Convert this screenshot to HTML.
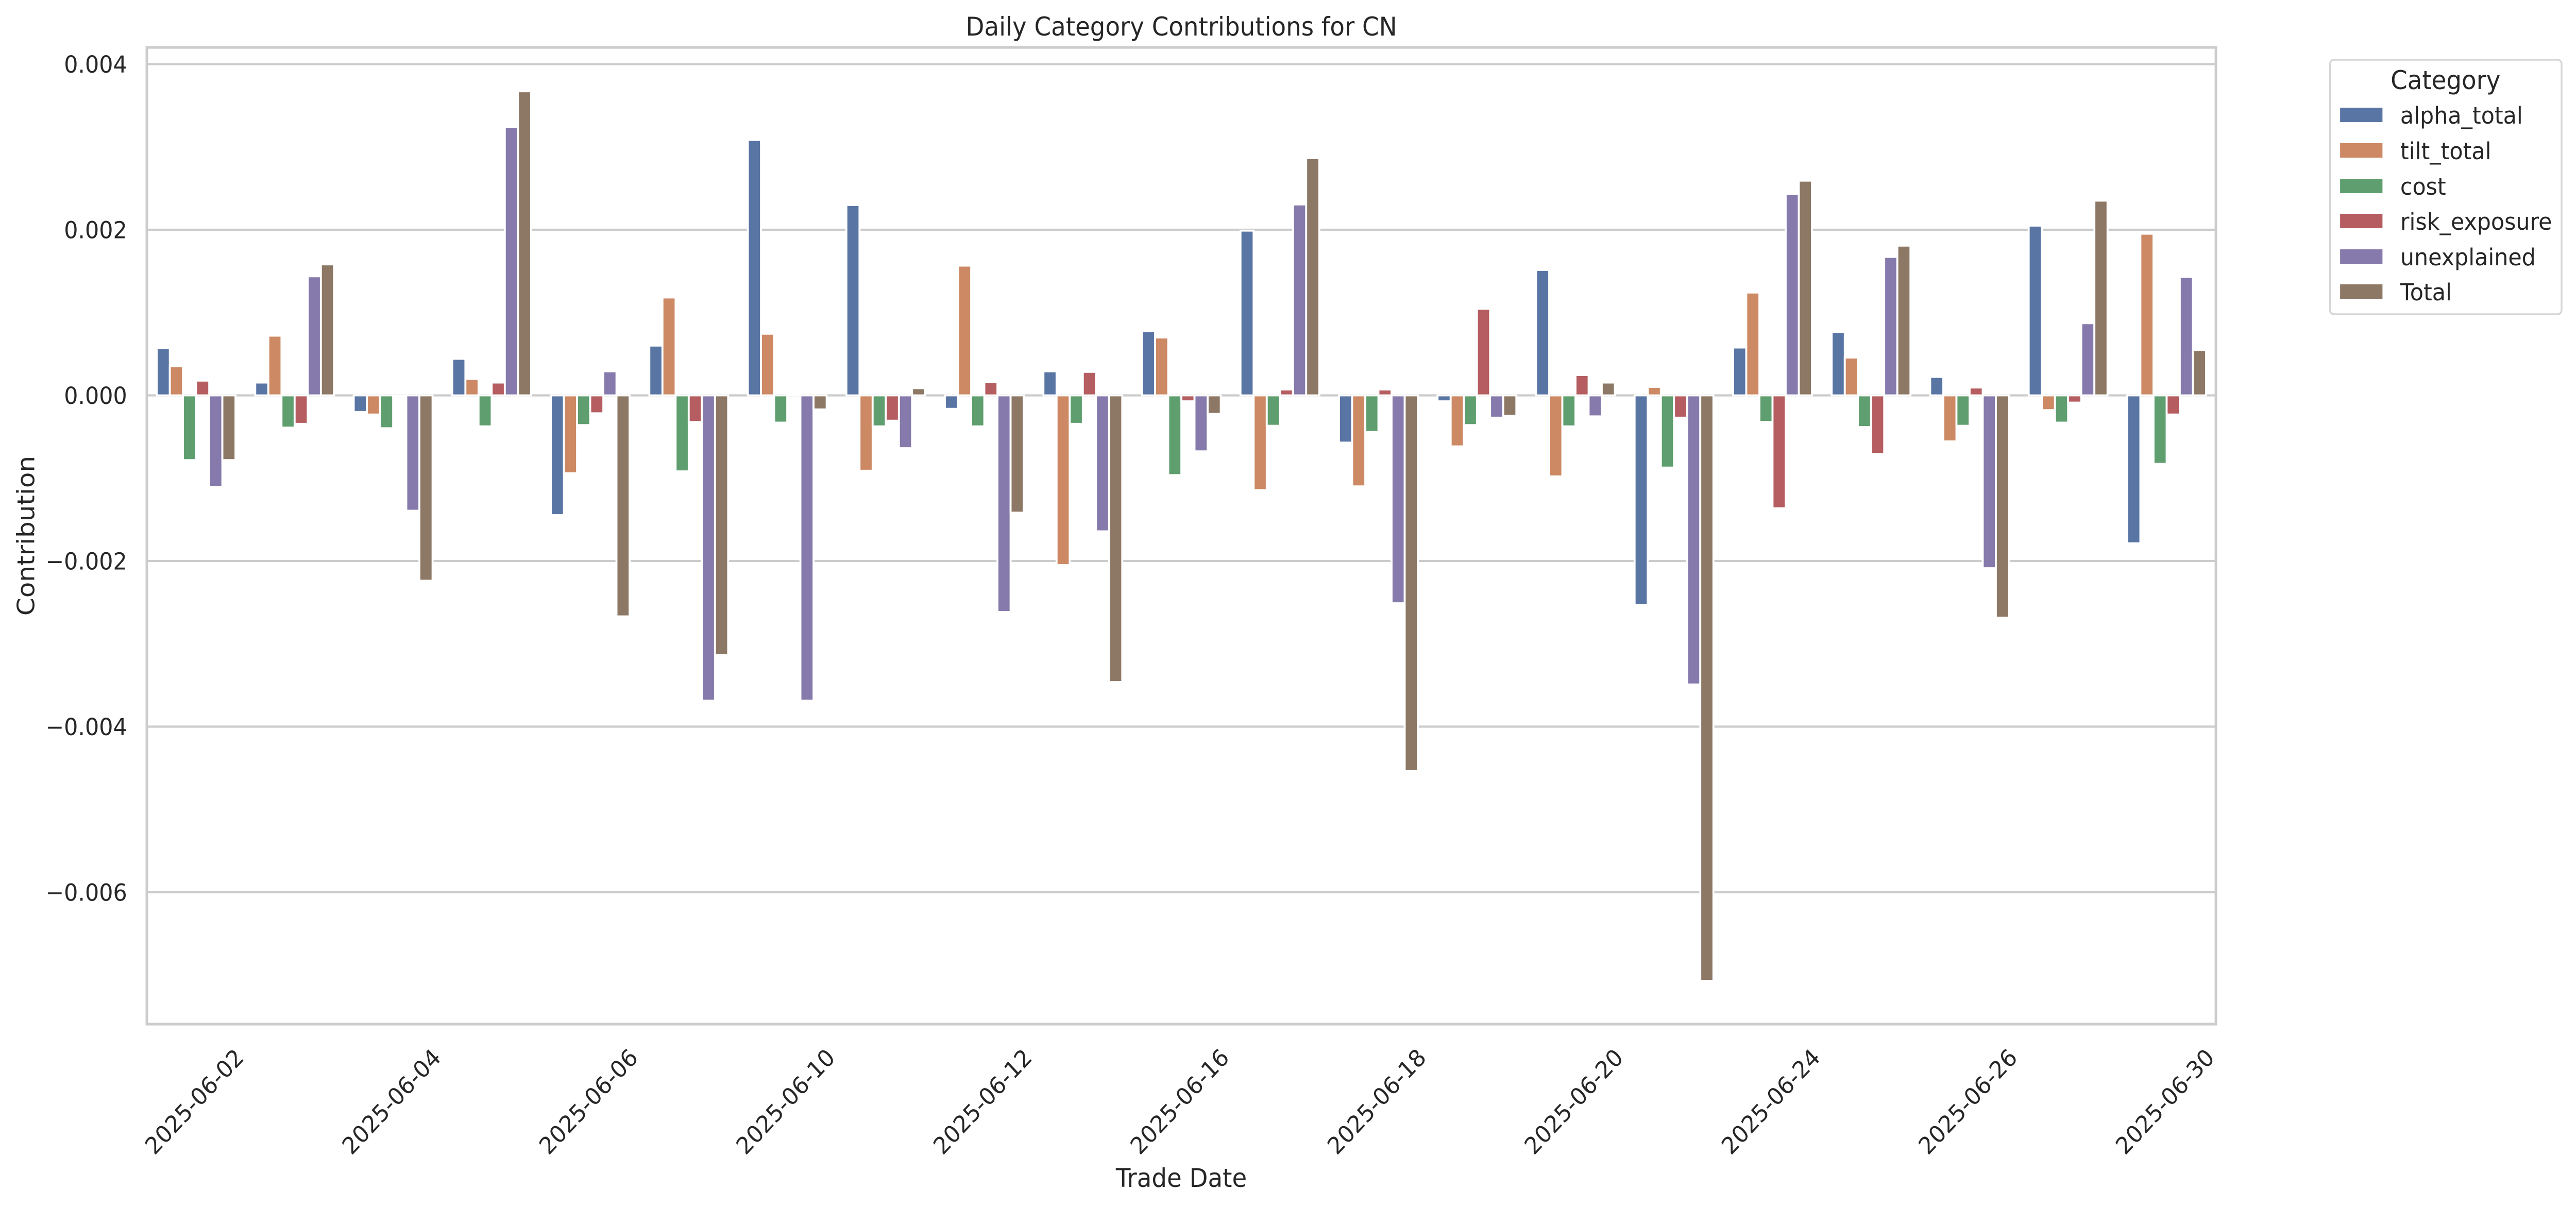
<!DOCTYPE html>
<html>
<head>
<meta charset="utf-8">
<style>
html,body{margin:0;padding:0;background:#fff;overflow:hidden;width:100%;height:100%;}
svg{display:block;position:fixed;left:0;top:0;width:100vw;height:100vh;}
text{font-family:"DejaVu Sans","Liberation Sans",sans-serif;fill:#262626;}
.c0{fill:#5975a4}.c1{fill:#cc8963}.c2{fill:#5f9e6e}.c3{fill:#b55d60}.c4{fill:#857aab}.c5{fill:#8d7866}
.b rect{stroke:#fff;stroke-width:3.8;vector-effect:non-scaling-stroke;}
.tk{font-size:45.8px;}
.lb{font-size:50px;}
</style>
</head>
<body>
<svg viewBox="0 0 5351 2343" preserveAspectRatio="none" xmlns="http://www.w3.org/2000/svg">
<rect x="0" y="0" width="5351" height="2343" fill="#fff"/>
<!-- gridlines -->
<g stroke="#cccccc" stroke-width="4.17">
<line x1="305" x2="4603" y1="124.5" y2="124.5"/>
<line x1="305" x2="4603" y1="446" y2="446"/>
<line x1="305" x2="4603" y1="767.5" y2="767.5"/>
<line x1="305" x2="4603" y1="1089" y2="1089"/>
<line x1="305" x2="4603" y1="1410.5" y2="1410.5"/>
<line x1="305" x2="4603" y1="1732" y2="1732"/>
</g>
<!-- bars -->
<g class="b">
<g transform="translate(325.47,767.5) scale(1,-160.75)">
<rect class="c0" x="0" y="0" width="27.29" height="0.571"/>
<rect class="c1" x="27.29" y="0" width="27.29" height="0.352"/>
<rect class="c2" x="54.58" y="-0.782" width="27.29" height="0.782"/>
<rect class="c3" x="81.87" y="0" width="27.29" height="0.178"/>
<rect class="c4" x="109.16" y="-1.106" width="27.29" height="1.106"/>
<rect class="c5" x="136.44" y="-0.782" width="27.29" height="0.782"/>
</g>
<g transform="translate(530.13,767.5) scale(1,-160.75)">
<rect class="c0" x="0" y="0" width="27.29" height="0.155"/>
<rect class="c1" x="27.29" y="0" width="27.29" height="0.721"/>
<rect class="c2" x="54.58" y="-0.389" width="27.29" height="0.389"/>
<rect class="c3" x="81.87" y="-0.344" width="27.29" height="0.344"/>
<rect class="c4" x="109.16" y="0" width="27.29" height="1.438"/>
<rect class="c5" x="136.44" y="0" width="27.29" height="1.582"/>
</g>
<g transform="translate(734.80,767.5) scale(1,-160.75)">
<rect class="c0" x="0" y="-0.201" width="27.29" height="0.201"/>
<rect class="c1" x="27.29" y="-0.231" width="27.29" height="0.231"/>
<rect class="c2" x="54.58" y="-0.397" width="27.29" height="0.397"/>
<rect class="c3" x="81.87" y="-0.012" width="27.29" height="0.012"/>
<rect class="c4" x="109.16" y="-1.393" width="27.29" height="1.393"/>
<rect class="c5" x="136.44" y="-2.238" width="27.29" height="2.238"/>
</g>
<g transform="translate(939.47,767.5) scale(1,-160.75)">
<rect class="c0" x="0" y="0" width="27.29" height="0.442"/>
<rect class="c1" x="27.29" y="0" width="27.29" height="0.201"/>
<rect class="c2" x="54.58" y="-0.374" width="27.29" height="0.374"/>
<rect class="c3" x="81.87" y="0" width="27.29" height="0.155"/>
<rect class="c4" x="109.16" y="0" width="27.29" height="3.242"/>
<rect class="c5" x="136.44" y="0" width="27.29" height="3.672"/>
</g>
<g transform="translate(1144.13,767.5) scale(1,-160.75)">
<rect class="c0" x="0" y="-1.446" width="27.29" height="1.446"/>
<rect class="c1" x="27.29" y="-0.940" width="27.29" height="0.940"/>
<rect class="c2" x="54.58" y="-0.359" width="27.29" height="0.359"/>
<rect class="c3" x="81.87" y="-0.216" width="27.29" height="0.216"/>
<rect class="c4" x="109.16" y="0" width="27.29" height="0.291"/>
<rect class="c5" x="136.44" y="-2.669" width="27.29" height="2.669"/>
</g>
<g transform="translate(1348.80,767.5) scale(1,-160.75)">
<rect class="c0" x="0" y="0" width="27.29" height="0.601"/>
<rect class="c1" x="27.29" y="0" width="27.29" height="1.182"/>
<rect class="c2" x="54.58" y="-0.918" width="27.29" height="0.918"/>
<rect class="c3" x="81.87" y="-0.321" width="27.29" height="0.321"/>
<rect class="c4" x="109.16" y="-3.687" width="27.29" height="3.687"/>
<rect class="c5" x="136.44" y="-3.137" width="27.29" height="3.137"/>
</g>
<g transform="translate(1553.47,767.5) scale(1,-160.75)">
<rect class="c0" x="0" y="0" width="27.29" height="3.084"/>
<rect class="c1" x="27.29" y="0" width="27.29" height="0.744"/>
<rect class="c2" x="54.58" y="-0.329" width="27.29" height="0.329"/>
<rect class="c3" x="81.87" y="0" width="27.29" height="0.012"/>
<rect class="c4" x="109.16" y="-3.687" width="27.29" height="3.687"/>
<rect class="c5" x="136.44" y="-0.170" width="27.29" height="0.170"/>
</g>
<g transform="translate(1758.13,767.5) scale(1,-160.75)">
<rect class="c0" x="0" y="0" width="27.29" height="2.299"/>
<rect class="c1" x="27.29" y="-0.910" width="27.29" height="0.910"/>
<rect class="c2" x="54.58" y="-0.374" width="27.29" height="0.374"/>
<rect class="c3" x="81.87" y="-0.306" width="27.29" height="0.306"/>
<rect class="c4" x="109.16" y="-0.638" width="27.29" height="0.638"/>
<rect class="c5" x="136.44" y="0" width="27.29" height="0.087"/>
</g>
<g transform="translate(1962.80,767.5) scale(1,-160.75)">
<rect class="c0" x="0" y="-0.163" width="27.29" height="0.163"/>
<rect class="c1" x="27.29" y="0" width="27.29" height="1.567"/>
<rect class="c2" x="54.58" y="-0.374" width="27.29" height="0.374"/>
<rect class="c3" x="81.87" y="0" width="27.29" height="0.163"/>
<rect class="c4" x="109.16" y="-2.616" width="27.29" height="2.616"/>
<rect class="c5" x="136.44" y="-1.416" width="27.29" height="1.416"/>
</g>
<g transform="translate(2167.47,767.5) scale(1,-160.75)">
<rect class="c0" x="0" y="0" width="27.29" height="0.291"/>
<rect class="c1" x="27.29" y="-2.050" width="27.29" height="2.050"/>
<rect class="c2" x="54.58" y="-0.344" width="27.29" height="0.344"/>
<rect class="c3" x="81.87" y="0" width="27.29" height="0.284"/>
<rect class="c4" x="109.16" y="-1.642" width="27.29" height="1.642"/>
<rect class="c5" x="136.44" y="-3.461" width="27.29" height="3.461"/>
</g>
<g transform="translate(2372.13,767.5) scale(1,-160.75)">
<rect class="c0" x="0" y="0" width="27.29" height="0.774"/>
<rect class="c1" x="27.29" y="0" width="27.29" height="0.699"/>
<rect class="c2" x="54.58" y="-0.963" width="27.29" height="0.963"/>
<rect class="c3" x="81.87" y="-0.072" width="27.29" height="0.072"/>
<rect class="c4" x="109.16" y="-0.676" width="27.29" height="0.676"/>
<rect class="c5" x="136.44" y="-0.223" width="27.29" height="0.223"/>
</g>
<g transform="translate(2576.80,767.5) scale(1,-160.75)">
<rect class="c0" x="0" y="0" width="27.29" height="1.989"/>
<rect class="c1" x="27.29" y="-1.144" width="27.29" height="1.144"/>
<rect class="c2" x="54.58" y="-0.367" width="27.29" height="0.367"/>
<rect class="c3" x="81.87" y="0" width="27.29" height="0.072"/>
<rect class="c4" x="109.16" y="0" width="27.29" height="2.306"/>
<rect class="c5" x="136.44" y="0" width="27.29" height="2.865"/>
</g>
<g transform="translate(2781.47,767.5) scale(1,-160.75)">
<rect class="c0" x="0" y="-0.570" width="27.29" height="0.570"/>
<rect class="c1" x="27.29" y="-1.099" width="27.29" height="1.099"/>
<rect class="c2" x="54.58" y="-0.442" width="27.29" height="0.442"/>
<rect class="c3" x="81.87" y="0" width="27.29" height="0.072"/>
<rect class="c4" x="109.16" y="-2.510" width="27.29" height="2.510"/>
<rect class="c5" x="136.44" y="-4.537" width="27.29" height="4.537"/>
</g>
<g transform="translate(2986.13,767.5) scale(1,-160.75)">
<rect class="c0" x="0" y="-0.072" width="27.29" height="0.072"/>
<rect class="c1" x="27.29" y="-0.616" width="27.29" height="0.616"/>
<rect class="c2" x="54.58" y="-0.359" width="27.29" height="0.359"/>
<rect class="c3" x="81.87" y="0" width="27.29" height="1.046"/>
<rect class="c4" x="109.16" y="-0.269" width="27.29" height="0.269"/>
<rect class="c5" x="136.44" y="-0.246" width="27.29" height="0.246"/>
</g>
<g transform="translate(3190.80,767.5) scale(1,-160.75)">
<rect class="c0" x="0" y="0" width="27.29" height="1.514"/>
<rect class="c1" x="27.29" y="-0.978" width="27.29" height="0.978"/>
<rect class="c2" x="54.58" y="-0.374" width="27.29" height="0.374"/>
<rect class="c3" x="81.87" y="0" width="27.29" height="0.246"/>
<rect class="c4" x="109.16" y="-0.254" width="27.29" height="0.254"/>
<rect class="c5" x="136.44" y="0" width="27.29" height="0.155"/>
</g>
<g transform="translate(3395.47,767.5) scale(1,-160.75)">
<rect class="c0" x="0" y="-2.533" width="27.29" height="2.533"/>
<rect class="c1" x="27.29" y="0" width="27.29" height="0.103"/>
<rect class="c2" x="54.58" y="-0.872" width="27.29" height="0.872"/>
<rect class="c3" x="81.87" y="-0.269" width="27.29" height="0.269"/>
<rect class="c4" x="109.16" y="-3.491" width="27.29" height="3.491"/>
<rect class="c5" x="136.44" y="-7.069" width="27.29" height="7.069"/>
</g>
<g transform="translate(3600.13,767.5) scale(1,-160.75)">
<rect class="c0" x="0" y="0" width="27.29" height="0.578"/>
<rect class="c1" x="27.29" y="0" width="27.29" height="1.242"/>
<rect class="c2" x="54.58" y="-0.321" width="27.29" height="0.321"/>
<rect class="c3" x="81.87" y="-1.363" width="27.29" height="1.363"/>
<rect class="c4" x="109.16" y="0" width="27.29" height="2.435"/>
<rect class="c5" x="136.44" y="0" width="27.29" height="2.593"/>
</g>
<g transform="translate(3804.80,767.5) scale(1,-160.75)">
<rect class="c0" x="0" y="0" width="27.29" height="0.767"/>
<rect class="c1" x="27.29" y="0" width="27.29" height="0.457"/>
<rect class="c2" x="54.58" y="-0.382" width="27.29" height="0.382"/>
<rect class="c3" x="81.87" y="-0.706" width="27.29" height="0.706"/>
<rect class="c4" x="109.16" y="0" width="27.29" height="1.672"/>
<rect class="c5" x="136.44" y="0" width="27.29" height="1.808"/>
</g>
<g transform="translate(4009.47,767.5) scale(1,-160.75)">
<rect class="c0" x="0" y="0" width="27.29" height="0.223"/>
<rect class="c1" x="27.29" y="-0.555" width="27.29" height="0.555"/>
<rect class="c2" x="54.58" y="-0.367" width="27.29" height="0.367"/>
<rect class="c3" x="81.87" y="0" width="27.29" height="0.095"/>
<rect class="c4" x="109.16" y="-2.087" width="27.29" height="2.087"/>
<rect class="c5" x="136.44" y="-2.684" width="27.29" height="2.684"/>
</g>
<g transform="translate(4214.13,767.5) scale(1,-160.75)">
<rect class="c0" x="0" y="0" width="27.29" height="2.050"/>
<rect class="c1" x="27.29" y="-0.178" width="27.29" height="0.178"/>
<rect class="c2" x="54.58" y="-0.329" width="27.29" height="0.329"/>
<rect class="c3" x="81.87" y="-0.087" width="27.29" height="0.087"/>
<rect class="c4" x="109.16" y="0" width="27.29" height="0.872"/>
<rect class="c5" x="136.44" y="0" width="27.29" height="2.352"/>
</g>
<g transform="translate(4418.80,767.5) scale(1,-160.75)">
<rect class="c0" x="0" y="-1.786" width="27.29" height="1.786"/>
<rect class="c1" x="27.29" y="0" width="27.29" height="1.952"/>
<rect class="c2" x="54.58" y="-0.827" width="27.29" height="0.827"/>
<rect class="c3" x="81.87" y="-0.231" width="27.29" height="0.231"/>
<rect class="c4" x="109.16" y="0" width="27.29" height="1.431"/>
<rect class="c5" x="136.44" y="0" width="27.29" height="0.548"/>
</g>
</g>
<!-- spines -->
<rect x="305" y="92" width="4298" height="1896" fill="none" stroke="#cccccc" stroke-width="5.2"/>
<!-- y tick labels -->
<g class="tk" text-anchor="end">
<text x="264" y="141.2">0.004</text>
<text x="264" y="462.7">0.002</text>
<text x="264" y="784.2">0.000</text>
<text x="264" y="1105.7">−0.002</text>
<text x="264" y="1427.2">−0.004</text>
<text x="264" y="1748.7">−0.006</text>
</g>
<!-- x tick labels -->
<g class="tk" text-anchor="middle">
<text transform="translate(403.3,2138) rotate(-45)" dy="0.36em">2025-06-02</text>
<text transform="translate(812.7,2138) rotate(-45)" dy="0.36em">2025-06-04</text>
<text transform="translate(1222,2138) rotate(-45)" dy="0.36em">2025-06-06</text>
<text transform="translate(1631.3,2138) rotate(-45)" dy="0.36em">2025-06-10</text>
<text transform="translate(2040.7,2138) rotate(-45)" dy="0.36em">2025-06-12</text>
<text transform="translate(2450,2138) rotate(-45)" dy="0.36em">2025-06-16</text>
<text transform="translate(2859.3,2138) rotate(-45)" dy="0.36em">2025-06-18</text>
<text transform="translate(3268.7,2138) rotate(-45)" dy="0.36em">2025-06-20</text>
<text transform="translate(3678,2138) rotate(-45)" dy="0.36em">2025-06-24</text>
<text transform="translate(4087.3,2138) rotate(-45)" dy="0.36em">2025-06-26</text>
<text transform="translate(4496.7,2138) rotate(-45)" dy="0.36em">2025-06-30</text>
</g>
<!-- title and axis labels -->
<text class="lb" x="2454" y="69" text-anchor="middle">Daily Category Contributions for CN</text>
<text class="lb" x="2454" y="2304" text-anchor="middle">Trade Date</text>
<text class="lb" transform="translate(71,1040) rotate(-90)" text-anchor="middle">Contribution</text>
<!-- legend -->
<rect x="4840" y="116" width="481" height="494" rx="8" ry="8" fill="#fff" stroke="#d6d6d6" stroke-width="3.6"/>
<text class="lb" x="5080" y="173" text-anchor="middle">Category</text>
<rect class="c0" x="4861" y="209" width="88" height="28"/>
<rect class="c1" x="4861" y="278" width="88" height="28"/>
<rect class="c2" x="4861" y="347" width="88" height="28"/>
<rect class="c3" x="4861" y="415" width="88" height="28"/>
<rect class="c4" x="4861" y="484" width="88" height="28"/>
<rect class="c5" x="4861" y="552" width="88" height="28"/>
<g class="tk">
<text x="4986" y="240">alpha_total</text>
<text x="4986" y="309">tilt_total</text>
<text x="4986" y="378">cost</text>
<text x="4986" y="446">risk_exposure</text>
<text x="4986" y="515">unexplained</text>
<text x="4986" y="583">Total</text>
</g>
</svg>
</body>
</html>
